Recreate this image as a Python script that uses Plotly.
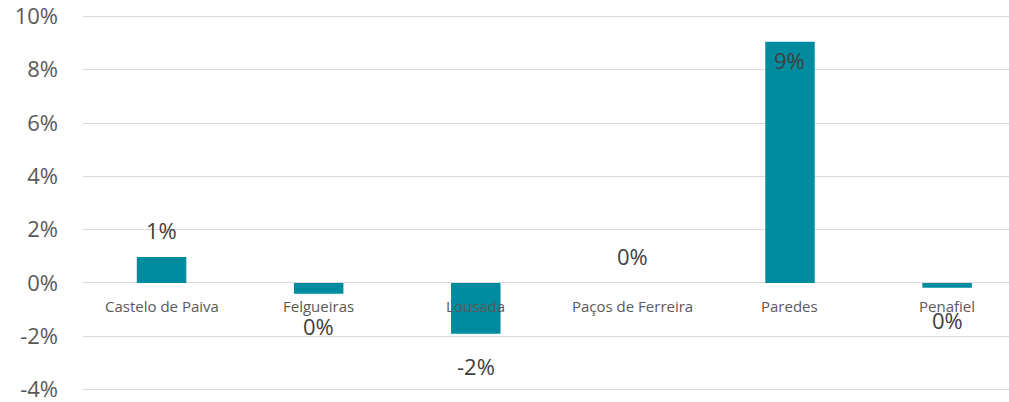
import plotly.graph_objects as go

categories = ["Castelo de Paiva", "Felgueiras", "Lousada", "Paços de Ferreira", "Paredes", "Penafiel"]
values = [0.0097, -0.0041, -0.0191, 0.0, 0.0905, -0.0018]
value_labels = ["1%", "0%", "-2%", "0%", "9%", "0%"]
label_inside = [False, False, False, False, True, False]

y_ticks = [-0.04, -0.02, 0.0, 0.02, 0.04, 0.06, 0.08, 0.10]
y_tick_text = ["-4%", "-2%", "0%", "2%", "4%", "6%", "8%", "10%"]

BAR = "#008C9E"
GRID = "#D9D9D9"
FONT = "Open Sans, DejaVu Sans, sans-serif"

fig = go.Figure()
fig.add_trace(go.Bar(
    x=categories, y=values, width=0.315,
    marker=dict(color=BAR, line=dict(width=0)),
    hoverinfo="skip", showlegend=False,
))

annotations = []
for cat, v, lab, inside in zip(categories, values, value_labels, label_inside):
    if inside:
        shift = -18
    elif v >= 0:
        shift = 27
    else:
        shift = -32
    annotations.append(dict(
        x=cat, y=v, xref="x", yref="y", text=lab, showarrow=False,
        yanchor="middle", xanchor="center", yshift=shift,
        font=dict(family=FONT, size=22, color="#404040"),
    ))
    annotations.append(dict(
        x=cat, y=0, xref="x", yref="y", text=cat, showarrow=False,
        yanchor="middle", xanchor="center", yshift=-23,
        font=dict(family=FONT, size=15, color="#595959"),
    ))

# small padding so the edge gridlines (10% and -4%) are drawn
pad = 0.14 * 1.5 / 373
fig.update_layout(
    width=1009, height=402,
    margin=dict(l=83, r=0, t=15, b=11),
    plot_bgcolor="white", paper_bgcolor="white",
    annotations=annotations,
    xaxis=dict(
        type="category", range=[-0.5, 5.394],
        showticklabels=False, showgrid=False, zeroline=False, showline=False,
        fixedrange=True,
    ),
    yaxis=dict(
        range=[-0.04 - pad, 0.10 + pad], tickvals=y_ticks, ticktext=y_tick_text,
        showgrid=True, gridcolor=GRID, gridwidth=1.3,
        zeroline=True, zerolinecolor=GRID, zerolinewidth=1.3,
        showline=False, ticks="",
        tickfont=dict(family=FONT, size=22, color="#595959"),
        ticklabelstandoff=24, ticklabeloverflow="allow",
        fixedrange=True,
    ),
)

fig.write_html(
    "out.html",
    config={"displayModeBar": False},
    post_script="document.body.style.margin='0';document.body.style.overflow='hidden';",
)
